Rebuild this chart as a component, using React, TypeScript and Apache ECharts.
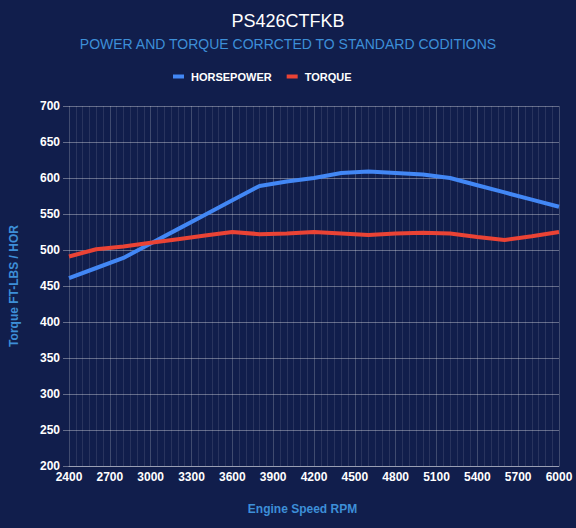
import React, { useEffect, useRef } from 'react';
import * as echarts from 'echarts';

// Engine speed (rpm) of each measured point
const rpm = [2400, 2600, 2800, 3000, 3200, 3400, 3600, 3800, 4000, 4200, 4400, 4600, 4800, 5000, 5200, 5400, 5600, 5800, 6000];
const horsepower = [461, 475, 489, 509, 529, 549, 569, 589, 595, 600, 607, 609, 607, 605, 600, 590, 580, 570, 560];
const torque = [491, 501, 505, 510, 515, 520, 525, 522, 523, 525, 523, 521, 523, 524, 523, 518, 514, 519, 525];

const bg = '#111e4c';
const gridColor = 'rgba(255,255,255,0.35)';
const nameColor = '#3d8fd8';
const labelFont = '"Liberation Sans", Arial, sans-serif';

const App: React.FC = () => {
    const chartRef = useRef<HTMLDivElement | null>(null);

    useEffect(() => {
        document.body.style.margin = '0';
        document.body.style.background = bg;
        if (!chartRef.current) return;
        const chart = echarts.init(chartRef.current, null, { renderer: 'svg' });

        const option = {
            animation: false,
            backgroundColor: bg,
            textStyle: { fontFamily: labelFont },
            title: {
                text: 'PS426CTFKB',
                subtext: 'POWER AND TORQUE CORRCTED TO STANDARD CODITIONS',
                left: 'center',
                top: 7,
                itemGap: 7,
                textStyle: { color: '#ffffff', fontSize: 18, fontWeight: 'normal', fontFamily: labelFont },
                subtextStyle: { color: nameColor, fontSize: 14, fontFamily: labelFont },
            },
            legend: {
                top: 66,
                left: 168,
                itemWidth: 11,
                itemHeight: 4,
                itemGap: 15,
                selectedMode: false,
                icon: 'rect',
                textStyle: { color: '#ffffff', fontSize: 11, fontWeight: 'bold', fontFamily: labelFont, padding: [0, 0, 0, 2] },
                data: ['HORSEPOWER', 'TORQUE'],
            },
            grid: { left: 64, right: 17, top: 106, bottom: 62 },
            xAxis: {
                type: 'value',
                min: 2400,
                max: 6000,
                interval: 300,
                name: 'Engine Speed RPM',
                nameLocation: 'middle',
                nameGap: 37,
                nameTextStyle: { color: nameColor, fontSize: 12, fontWeight: 'bold', padding: [0, 23, 0, 0] },
                axisLine: { show: true, lineStyle: { color: gridColor, width: 1 } },
                axisTick: { show: false },
                axisLabel: { color: '#ffffff', fontSize: 12, fontWeight: 'bold', margin: 5, formatter: (v: number) => String(v) },
                splitLine: { show: true, lineStyle: { color: 'rgba(255,255,255,0.2)', width: 1 } },
                minorTick: { show: false, splitNumber: 6 },
                minorSplitLine: { show: true, lineStyle: { color: 'rgba(255,255,255,0.1)', width: 1 } },
            },
            yAxis: {
                type: 'value',
                min: 200,
                max: 700,
                interval: 50,
                name: 'Torque FT-LBS / HOR',
                nameLocation: 'middle',
                nameGap: 49,
                nameTextStyle: { color: nameColor, fontSize: 12, fontWeight: 'bold' },
                axisLine: { show: false },
                axisTick: { show: true, length: 6, lineStyle: { color: gridColor } },
                axisLabel: { color: '#ffffff', fontSize: 12, fontWeight: 'bold', margin: 9 },
                splitLine: { show: true, lineStyle: { color: gridColor, width: 1 } },
            },
            series: [
                {
                    name: 'HORSEPOWER',
                    type: 'line',
                    data: rpm.map((r, i) => [r, horsepower[i]]),
                    showSymbol: false,
                    symbol: 'none',
                    color: '#4287f5',
                    lineStyle: { width: 4, color: '#4287f5' },
                },
                {
                    name: 'TORQUE',
                    type: 'line',
                    data: rpm.map((r, i) => [r, torque[i]]),
                    showSymbol: false,
                    symbol: 'none',
                    color: '#ea4335',
                    lineStyle: { width: 4, color: '#ea4335' },
                },
            ],
        };

        chart.setOption(option);

        return () => {
            chart.dispose();
        };
    }, []);

    return <div ref={chartRef} style={{ width: 576, height: 528 }} />;
};

export default App;
